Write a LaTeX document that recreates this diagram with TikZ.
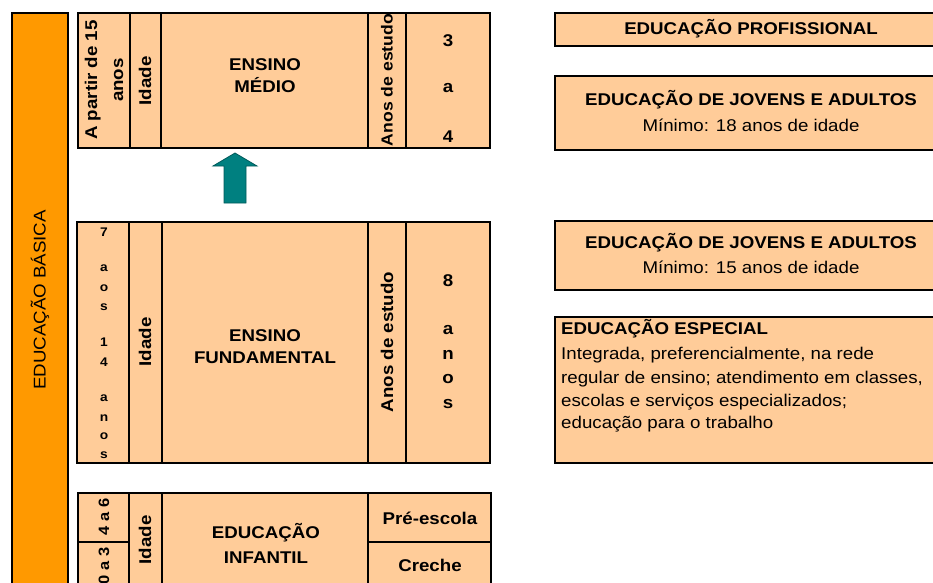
\documentclass[tikz,border=0pt]{standalone}
\usepackage{fontspec}
\setmainfont{Liberation Sans}[FakeStretch=1.1]
\definecolor{peach}{HTML}{FFCC99}
\definecolor{orangebar}{HTML}{FF9900}
\definecolor{arrowteal}{HTML}{008080}
\begin{document}
\begin{tikzpicture}[x=1pt,y=-1pt,
  cellline/.style={line width=2pt, draw=black},
  tablebox/.style={cellline, fill=peach},
  sidebox/.style={line width=2.6pt, draw=black, fill=peach},
  big/.style={font=\fontsize{17}{22}\selectfont\bfseries, align=center, inner sep=0pt},
  plain/.style={font=\fontsize{17}{22}\selectfont, align=center, inner sep=0pt},
  small/.style={font=\fontsize{12.5}{14}\selectfont\bfseries, inner sep=0pt},
  vert/.style={rotate=90}]
\useasboundingbox (0,0) rectangle (933,582);
\clip (0,0) rectangle (933,582);
\fill[white] (0,0) rectangle (933,582);

% Educacao basica bar
\draw[cellline, fill=orangebar] (12,13) rectangle (68,620);
\node[plain, vert] (eb) at (40,300) {EDUCAÇÃO BÁSICA};

% Ensino medio table
\draw[tablebox] (78,13) rectangle (490,148);
\foreach \x in {130,161,368,406} \draw[cellline] (\x,13) -- (\x,148);
\node[big, vert, font=\fontsize{17}{26}\selectfont\bfseries] (em1) at (104,80) {A partir de 15\\anos};
\node[big, vert] (em2) at (145,81) {Idade};
\node[big] (em3) at (265,76) {ENSINO\\MÉDIO};
\node[big, vert, font=\fontsize{16}{20}\selectfont\bfseries] (em4) at (387,80) {Anos de estudo};
\node[big] (em5) at (448,41) {3};
\node[big] (em6) at (448,88) {a};
\node[big] (em7) at (448,137) {4};

% arrow
\draw[fill=arrowteal, draw=arrowteal!70!black, line width=0.8pt]
  (235,153) -- (257,166) -- (246,166) -- (246,203) -- (224,203) -- (224,166) -- (213,166) -- cycle;

% Ensino fundamental table
\draw[tablebox] (77,222) rectangle (490,463);
\foreach \x in {129,162,368,406} \draw[cellline] (\x,222) -- (\x,463);
\foreach \ch/\yy [count=\i] in {7/232,a/268,o/288,s/307,1/342,4/362,a/398,n/418,o/436,s/455}
  \node[small] (ef\i) at (104,\yy) {\ch};
\node[big, vert] (efid) at (145,342) {Idade};
\node[big] (eft) at (265,347) {ENSINO\\FUNDAMENTAL};
\node[big, vert] (efan) at (387,342) {Anos de estudo};
\foreach \ch/\yy [count=\i] in {8/281,a/330,n/355,o/379,s/404}
  \node[big] (efr\i) at (448,\yy) {\ch};

% Educacao infantil table
\draw[tablebox] (78,493) rectangle (491,590);
\foreach \x in {129,162,368} \draw[cellline] (\x,493) -- (\x,590);
\draw[cellline] (78,542) -- (129,542);
\draw[cellline] (368,542) -- (491,542);
\node[big, vert, font=\fontsize{15}{18}\selectfont\bfseries] (ei1) at (104,517) {4 a 6};
\node[big, vert, font=\fontsize{15}{18}\selectfont\bfseries] (ei2) at (104,566) {0 a 3};
\node[big, vert] (ei3) at (145,540) {Idade};
\node[big, font=\fontsize{17}{25}\selectfont\bfseries] (ei4) at (266,543) {EDUCAÇÃO\\INFANTIL};
\node[big] (ei5) at (430,518) {Pré-escola};
\node[big] (ei6) at (430,565) {Creche};

% right-hand boxes
\draw[sidebox] (555,13) rectangle (950,46);
\node[big] (rp) at (751,29) {EDUCAÇÃO PROFISSIONAL};

\draw[sidebox] (555,76) rectangle (950,150);
\node[big] (rj1) at (751,100) {EDUCAÇÃO DE JOVENS E ADULTOS};
\node[plain] (rj1b) at (751,125) {Mínimo: 18 anos de idade};

\draw[sidebox] (555,221) rectangle (950,290);
\node[big] (rj2) at (751,243) {EDUCAÇÃO DE JOVENS E ADULTOS};
\node[plain] (rj2b) at (751,267) {Mínimo: 15 anos de idade};

\draw[sidebox] (555,317) rectangle (950,463);
\node[big, anchor=west] (re1) at (561,329) {EDUCAÇÃO ESPECIAL};
\node[plain, anchor=west] (re2) at (561,355) {Integrada, preferencialmente, na rede};
\node[plain, anchor=west] (re3) at (561,379) {regular de ensino; atendimento em classes,};
\node[plain, anchor=west] (re4) at (561,402) {escolas e serviços especializados;};
\node[plain, anchor=west] (re5) at (561,424) {educação para o trabalho};
\end{tikzpicture}
\end{document}
